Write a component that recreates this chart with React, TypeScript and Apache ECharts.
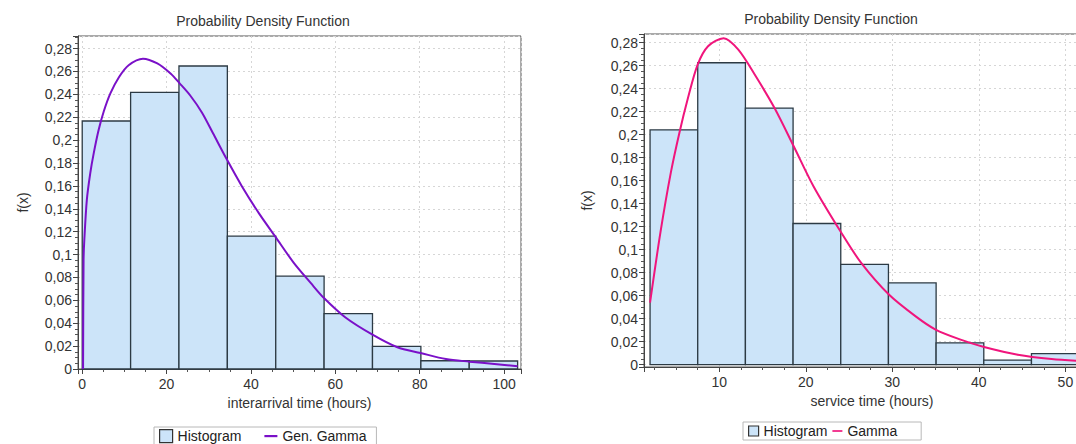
import React, { useEffect, useRef } from "react";
import * as echarts from "echarts";

// ---------- Data ----------
// Left chart: interarrival time histogram (bin edges & densities) and Gen. Gamma curve
const leftBinEdges = [0, 11.47, 22.93, 34.4, 45.87, 57.33, 68.8, 80.27, 91.73, 103.2];
const leftBinHeights = [0.2167, 0.2418, 0.2648, 0.1161, 0.0811, 0.0484, 0.0197, 0.0072, 0.007];
const leftCurveX = [0.2, 0.32, 0.5, 1.1, 1.9, 2.7, 3.9, 5.1, 6.7, 8.7, 11.0, 14.4, 17.8, 21.0, 23.0, 25.6, 28.4, 31.0, 34.3, 37.8, 41.9, 45.9, 50.1, 54.2, 57.3, 62.4, 68.8, 74.7, 80.2, 86.2, 91.8, 97.7, 103.2];
const leftCurveY = [0, 0.095, 0.113, 0.148, 0.171, 0.188, 0.209, 0.225, 0.241, 0.255, 0.2655, 0.2712, 0.267, 0.258, 0.25, 0.239, 0.224, 0.206, 0.183, 0.16, 0.136, 0.115, 0.093, 0.075, 0.062, 0.045, 0.03, 0.019, 0.014, 0.0087, 0.0064, 0.0044, 0.0023];

// Right chart: service time histogram and Gamma curve
const rightBinEdges = [2.0, 7.51, 13.02, 18.53, 24.04, 29.55, 35.06, 40.57, 46.08, 51.59];
const rightBinHeights = [0.2043, 0.2626, 0.2232, 0.1228, 0.0873, 0.0711, 0.019, 0.004, 0.0097];
const rightCurveX = [2.0, 3.2, 4.4, 5.4, 6.35, 7.5, 8.7, 10.5, 12.2, 14.2, 16.4, 18.6, 20.9, 24.0, 26.4, 29.6, 32.7, 35.0, 37.8, 40.6, 44.5, 48.4, 52.0];
const rightCurveY = [0.054, 0.115, 0.167, 0.202, 0.231, 0.261, 0.277, 0.284, 0.274, 0.251, 0.223, 0.19, 0.155, 0.116, 0.0885, 0.061, 0.042, 0.0305, 0.022, 0.0154, 0.0087, 0.005, 0.0032];

const titleText = "Probability Density Function";
const leftXName = "interarrival time (hours)";
const rightXName = "service time (hours)";
const yName = "f(x)";
const leftCurveName = "Gen. Gamma";
const rightCurveName = "Gamma";
const histName = "Histogram";

// ---------- Styles ----------
const FONT = "Liberation Sans";
const TEXT = "#333";
const BAR_FILL = "#cce4f9";
const BAR_STROKE = "#2c3a44";
const PURPLE = "#7a10c8";
const PINK = "#f0157c";

const bins = (edges: number[], h: number[]) => h.map((v, i) => [edges[i], edges[i + 1], v]);
const pairs = (xs: number[], ys: number[]) => xs.map((x, i) => [x, ys[i]]);

const fmtY = (v: number) => {
  const k = v / 0.02;
  if (v < -1e-9 || Math.abs(k - Math.round(k)) > 1e-6) return "";
  return String(+v.toFixed(2)).replace(".", ",");
};
const fmtX = (step: number) => (v: number) => {
  const k = v / step;
  if (Math.abs(k - Math.round(k)) > 1e-6) return "";
  return String(Math.round(v));
};

const histRender = (params: any, api: any) => {
  const x0 = api.value(0);
  const x1 = api.value(1);
  const y = api.value(2);
  const p0 = api.coord([x0, y]);
  const p1 = api.coord([x1, 0]);
  return {
    type: "rect",
    shape: { x: p0[0], y: p0[1], width: p1[0] - p0[0], height: p1[1] - p0[1] },
    style: { fill: BAR_FILL, stroke: BAR_STROKE, lineWidth: 1.3 },
  };
};

const xAxisBase = (gridIndex: number, min: number, max: number, step: number, name: string, nameGap: number) => ({
  type: "value",
  gridIndex,
  min,
  max,
  splitNumber: 5,
  name,
  nameLocation: "middle",
  nameGap,
  nameTextStyle: { fontFamily: FONT, fontSize: 14, color: TEXT },
  axisLine: { show: true, onZero: false, lineStyle: { color: "#444", width: 1 } },
  axisTick: { show: true, length: 5, lineStyle: { color: "#444" } },
  minorTick: { show: true, splitNumber: 4, length: 3, lineStyle: { color: "#555" } },
  axisLabel: {
    fontFamily: FONT,
    fontSize: 14,
    color: TEXT,
    margin: 8,
    showMinLabel: false,
    showMaxLabel: false,
    formatter: fmtX(step),
  },
  splitLine: { show: true, lineStyle: { color: "#d6d6d6", type: [2, 3], width: 1 } },
});

const yAxisBase = (gridIndex: number, min: number, max: number, nameGap: number) => ({
  type: "value",
  gridIndex,
  min,
  max,
  splitNumber: 14,
  name: yName,
  nameLocation: "middle",
  nameGap,
  nameTextStyle: { fontFamily: FONT, fontSize: 14, color: TEXT },
  axisLine: { show: true, onZero: false, lineStyle: { color: "#444", width: 1 } },
  axisTick: { show: true, length: 5, lineStyle: { color: "#444" } },
  minorTick: { show: true, splitNumber: 4, length: 3, lineStyle: { color: "#555" } },
  axisLabel: {
    fontFamily: FONT,
    fontSize: 14,
    color: TEXT,
    margin: 6,
    showMinLabel: min >= 0,
    showMaxLabel: false,
    formatter: fmtY,
  },
  splitLine: { show: true, lineStyle: { color: "#d6d6d6", type: [2, 3], width: 1 } },
});

const legendBase = (left: number, top: number, curveName: string, color: string, size: number, gap: number, padding: number[]) => ({
  left,
  top,
  orient: "horizontal",
  itemWidth: size,
  itemHeight: size,
  itemGap: gap,
  padding,
  borderColor: "#b8b8b8",
  borderWidth: 1,
  backgroundColor: "#fff",
  textStyle: { fontFamily: FONT, fontSize: 14, color: "#222" },
  selectedMode: false,
  data: [
    { name: histName, icon: "rect", itemStyle: { color: BAR_FILL, borderColor: "#333", borderWidth: 1.2 } },
    { name: curveName, icon: "path://M0 0H12V2H0Z", itemStyle: { color, borderWidth: 0 } },
  ],
});

export default function App() {
  const ref = useRef<HTMLDivElement>(null);
  useEffect(() => {
    if (!ref.current) return;
    const chart = echarts.init(ref.current, null, { renderer: "svg" });
    const option: any = {
      animation: false,
      backgroundColor: "#fff",
      title: [
        {
          text: titleText,
          left: 263,
          top: 14,
          textAlign: "center",
          padding: 0,
          textStyle: { fontFamily: FONT, fontSize: 14, fontWeight: "normal", color: TEXT },
        },
        {
          text: titleText,
          left: 831,
          top: 12,
          textAlign: "center",
          padding: 0,
          textStyle: { fontFamily: FONT, fontSize: 14, fontWeight: "normal", color: TEXT },
        },
      ],
      legend: [
        legendBase(154, 427, leftCurveName, PURPLE, 13, 23, [2, 10, 2, 5]),
        legendBase(743, 422, rightCurveName, PINK, 10, 5, [2, 24, 2, 5]),
      ],
      grid: [
        { left: 78, top: 36, width: 443, height: 333, show: true, borderColor: "#555", borderWidth: 1, backgroundColor: "transparent" },
        { left: 644, top: 34, width: 456, height: 333, show: true, borderColor: "#555", borderWidth: 1, backgroundColor: "transparent" },
      ],
      xAxis: [
        xAxisBase(0, -1, 104, 20, leftXName, 25),
        xAxisBase(1, 1.3, 54, 10, rightXName, 23),
      ],
      yAxis: [yAxisBase(0, 0, 0.291, 48), yAxisBase(1, -0.002, 0.2876, 50)],
      series: [
        {
          name: histName,
          type: "custom",
          xAxisIndex: 0,
          yAxisIndex: 0,
          renderItem: histRender,
          encode: { x: [0, 1], y: 2 },
          data: bins(leftBinEdges, leftBinHeights),
          itemStyle: { color: BAR_FILL },
          z: 2,
        },
        {
          name: leftCurveName,
          type: "line",
          xAxisIndex: 0,
          yAxisIndex: 0,
          data: pairs(leftCurveX, leftCurveY),
          smooth: 0.3,
          showSymbol: false,
          symbol: "none",
          lineStyle: { color: PURPLE, width: 2 },
          itemStyle: { color: PURPLE },
          z: 5,
        },
        {
          name: histName,
          type: "custom",
          xAxisIndex: 1,
          yAxisIndex: 1,
          renderItem: histRender,
          encode: { x: [0, 1], y: 2 },
          data: bins(rightBinEdges, rightBinHeights),
          itemStyle: { color: BAR_FILL },
          z: 2,
        },
        {
          name: rightCurveName,
          type: "line",
          xAxisIndex: 1,
          yAxisIndex: 1,
          data: pairs(rightCurveX, rightCurveY),
          smooth: 0.3,
          showSymbol: false,
          symbol: "none",
          lineStyle: { color: PINK, width: 2 },
          itemStyle: { color: PINK },
          z: 5,
        },
      ],
    };
    chart.setOption(option);
    return () => chart.dispose();
  }, []);
  return (
    <div style={{ position: "absolute", left: 0, top: 0, width: 1076, height: 444, overflow: "hidden" }}>
      <div ref={ref} style={{ width: 1130, height: 444 }} />
    </div>
  );
}
